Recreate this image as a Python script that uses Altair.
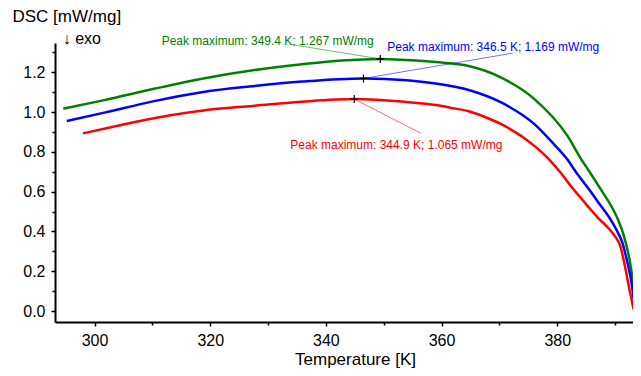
import altair as alt
import pandas as pd

# ---- data ----
series_names = ["green", "blue", "red"]
series_colors = ["#008000", "#0000ff", "#ff0000"]

temp_green = [294.6, 301.7, 310.3, 318.8, 327.4, 335.9, 342.7, 349.4, 355.6, 359.0,
              364.7, 370.4, 376.1, 381.8, 384.0, 385.8, 388.0, 389.2, 390.5, 391.5,
              392.6, 393.2]
dsc_green = [1.017, 1.060, 1.117, 1.169, 1.210, 1.240, 1.259, 1.267, 1.259, 1.251,
             1.231, 1.172, 1.064, 0.879, 0.770, 0.690, 0.590, 0.535, 0.460, 0.380,
             0.243, 0.126]

temp_blue = [295.2, 301.7, 310.3, 318.8, 327.4, 335.9, 346.5, 354.0, 359.0, 364.7,
             370.4, 376.1, 378.9, 381.8, 383.2, 385.8, 387.5, 389.0, 390.3, 391.3,
             392.0, 393.0, 393.2]
dsc_blue = [0.955, 0.997, 1.055, 1.101, 1.130, 1.153, 1.169, 1.160, 1.143, 1.111,
            1.047, 0.938, 0.855, 0.760, 0.700, 0.600, 0.530, 0.470, 0.405, 0.340,
            0.260, 0.111, 0.060]

temp_red = [298.0, 304.6, 313.1, 318.8, 327.4, 335.9, 344.9, 354.0, 359.0, 361.5,
            364.7, 367.5, 370.4, 376.1, 378.5, 380.6, 382.3, 383.8, 385.2, 387.0,
            388.9, 390.0, 390.9, 391.7, 392.6, 393.2]
dsc_red = [0.893, 0.935, 0.984, 1.008, 1.031, 1.052, 1.065, 1.050, 1.035, 1.022,
           1.004, 0.975, 0.938, 0.829, 0.765, 0.695, 0.630, 0.578, 0.530, 0.470,
           0.415, 0.375, 0.327, 0.226, 0.092, 0.009]

peak_temp = [349.4, 346.5, 344.9]
peak_dsc = [1.267, 1.169, 1.065]
peak_text = ["Peak maximum: 349.4 K; 1.267 mW/mg",
             "Peak maximum: 346.5 K; 1.169 mW/mg",
             "Peak maximum: 344.9 K; 1.065 mW/mg"]
label_temp = [311.6, 350.6, 333.85]
label_dsc = [1.337, 1.307, 0.814]
leader_temp = [333.9, 372.3, 356.4]
leader_dsc = [1.340, 1.296, 0.894]

exo_text = ["\u2193 exo"]
exo_temp = [294.5]
exo_dsc = [1.342]

x_major = [300, 320, 340, 360, 380]
x_minor = [310, 330, 350, 370, 390]
y_major = [0.0, 0.2, 0.4, 0.6, 0.8, 1.0, 1.2]
y_minor = [0.1, 0.3, 0.5, 0.7, 0.9, 1.1, 1.3]
x_domain = [293.16, 393.1]
y_domain = [-0.055, 1.347]

FONT = "Liberation Sans"

# ---- tables ----
rows = []
for name, ts, vs in [("green", temp_green, dsc_green),
                     ("blue", temp_blue, dsc_blue),
                     ("red", temp_red, dsc_red)]:
    for t, v in zip(ts, vs):
        rows.append({"series": name, "T": t, "DSC": v})
curves = pd.DataFrame(rows)

peaks = pd.DataFrame({
    "series": series_names, "T": peak_temp, "DSC": peak_dsc, "text": peak_text,
    "LT": label_temp, "LV": label_dsc, "QT": leader_temp, "QV": leader_dsc,
})
exo = pd.DataFrame({"T": exo_temp, "DSC": exo_dsc, "text": exo_text})

xs = alt.Scale(domain=x_domain, nice=False, zero=False)
ys = alt.Scale(domain=y_domain, nice=False, zero=False)
cs = alt.Scale(domain=series_names, range=series_colors)

x_axis = alt.Axis(values=x_major, format="d", orient="bottom", tickSize=4,
                  labelPadding=6, title="Temperature [K]", titleX=300, titleY=42.5,
                  titleAlign="center", titleBaseline="alphabetic", grid=False)
y_axis = alt.Axis(values=y_major, format=".1f", orient="left", tickSize=4,
                  labelPadding=6, title="DSC [mW/mg]", titleAngle=0, titleAlign="left",
                  titleBaseline="alphabetic", titleX=-43, titleY=-22, grid=False)
x_minor_axis = alt.Axis(values=x_minor, labels=False, domain=False, orient="bottom",
                        tickSize=3, title=None, grid=False)
y_minor_axis = alt.Axis(values=y_minor, labels=False, domain=False, orient="left",
                        tickSize=3, title=None, grid=False)

lines = alt.Chart(curves).mark_line(strokeWidth=2.5, interpolate="monotone", clip=True).encode(
    x=alt.X("T:Q", scale=xs, axis=x_axis),
    y=alt.Y("DSC:Q", scale=ys, axis=y_axis),
    color=alt.Color("series:N", scale=cs, legend=None),
    detail="series:N",
)

minor = alt.Chart(curves).mark_point(opacity=0).encode(
    x=alt.X("T:Q", scale=xs, axis=x_minor_axis),
    y=alt.Y("DSC:Q", scale=ys, axis=y_minor_axis),
)

leaders = alt.Chart(peaks).mark_rule(strokeWidth=1, opacity=0.55).encode(
    x=alt.X("QT:Q", scale=xs, axis=None),
    y=alt.Y("QV:Q", scale=ys, axis=None),
    x2="T:Q", y2="DSC:Q",
    color=alt.Color("series:N", scale=cs, legend=None),
)

markers = alt.Chart(peaks).mark_point(
    shape="M-1,0L1,0M0,-1L0,1", size=64, filled=False, color="black",
    strokeWidth=1.2, opacity=1,
).encode(
    x=alt.X("T:Q", scale=xs, axis=None),
    y=alt.Y("DSC:Q", scale=ys, axis=None),
)

labels = alt.Chart(peaks).mark_text(
    align="left", baseline="alphabetic", fontSize=12, font=FONT,
).encode(
    x=alt.X("LT:Q", scale=xs, axis=None),
    y=alt.Y("LV:Q", scale=ys, axis=None),
    text="text:N",
    color=alt.Color("series:N", scale=cs, legend=None),
)

exo_mark = alt.Chart(exo).mark_text(
    align="left", baseline="alphabetic", fontSize=16, font=FONT, color="black",
).encode(
    x=alt.X("T:Q", scale=xs, axis=None),
    y=alt.Y("DSC:Q", scale=ys, axis=None),
    text="text:N",
)

chart = alt.layer(lines, minor, leaders, markers, labels, exo_mark).resolve_scale(
    x="shared", y="shared", color="shared"
).resolve_axis(
    x="independent", y="independent"
).properties(
    width=578, height=279,
    autosize=alt.AutoSizeParams(type="none"),
    padding={"left": 47, "top": 35, "right": 0, "bottom": 46},
    background="white",
).configure_view(
    strokeOpacity=0
).configure_axis(
    labelFont=FONT, labelFontSize=16, labelColor="black",
    titleFont=FONT, titleFontSize=17, titleFontWeight="normal", titleColor="black",
    domainColor="black", domainWidth=2, tickColor="black", tickWidth=1.5,
)

chart.save("out.html", embed_options={"renderer": "svg", "actions": False})
